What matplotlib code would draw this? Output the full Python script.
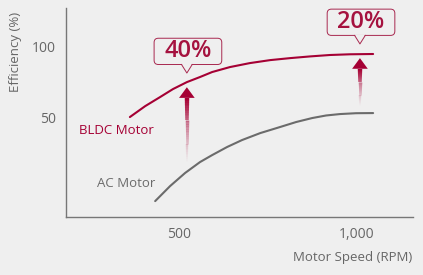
import matplotlib.pyplot as plt
import numpy as np
from matplotlib.collections import LineCollection
from matplotlib.patches import Polygon, FancyBboxPatch

plt.rcParams['font.family'] = ['Open Sans', 'DejaVu Sans']

# efficiency curves
bldc_rpm = [362, 405, 447, 483, 522, 559, 593, 643, 699, 756, 812, 868, 924, 980, 1045]
bldc_eff = [50.0, 57.7, 64.1, 69.7, 74.6, 78.2, 81.7, 85.2, 88.0, 90.1, 91.5, 92.7, 93.7, 94.2, 94.4]
ac_rpm = [433, 475, 517, 559, 593, 635, 677, 728, 784, 829, 874, 913, 952, 997, 1045]
ac_eff = [-9.2, 1.4, 10.6, 18.3, 23.2, 28.9, 33.8, 38.7, 43.0, 46.5, 49.3, 51.1, 52.1, 52.7, 52.8]

gain_labels = ['40%', '20%']
gain_rpm = [522, 1008]
gain_from = [17, 57]
gain_to = [71, 91.5]

x_ticks = [500, 1000]
x_tick_labels = ['500', '1,000']
y_ticks = [50, 100]

red = '#a50034'
grey = '#6b6b6b'
bg = '#efefef'

fig = plt.figure(figsize=(4.23, 2.75), dpi=100, facecolor=bg)
ax = fig.add_axes([66 / 423, 58 / 275, 347 / 423, 209 / 275], facecolor=bg)
ax.set_xlim(182.6, 1157)
ax.set_ylim(-20.4, 126.8)

ax.plot(bldc_rpm, bldc_eff, color=red, lw=1.5, solid_capstyle='round')
ax.plot(ac_rpm, ac_eff, color=grey, lw=1.5, solid_capstyle='round')

ax.text(78 / 0.356, (188 - 130) / 1.42, 'BLDC Motor', color=red, fontsize=9.5,
        va='center', ha='left')
ax.text(96 / 0.356, (188 - 183) / 1.42, 'AC Motor', color=grey, fontsize=9.5,
        va='center', ha='left')

# gradient arrows + callout boxes
for lab, x, y0, y1 in zip(gain_labels, gain_rpm, gain_from, gain_to):
    head = 7.5
    ys = np.linspace(y0, y1 - head, 40)
    segs = [[(x, ys[i]), (x, ys[i + 1])] for i in range(len(ys) - 1)]
    cols = [(0.65, 0.0, 0.2, a) for a in np.linspace(0, 1, len(segs)) ** 1.3]
    widths = np.linspace(1.2, 3.2, len(segs))
    ax.add_collection(LineCollection(segs, colors=cols, linewidths=widths))
    ax.add_patch(Polygon([(x - 22, y1 - head), (x + 22, y1 - head), (x, y1)],
                         closed=True, color=red, lw=0))

    w, h = 190, 18.5
    bx = x + 3 - w / 2
    by = y1 + 16
    ax.add_patch(FancyBboxPatch((bx, by), w, h,
                                boxstyle='round,pad=0,rounding_size=12',
                                mutation_aspect=0.25, fc=bg, ec='#a8284f', lw=0.7,
                                clip_on=False, zorder=4))
    ax.text(x + 3, by + h / 2, lab, color='#a5123f', fontsize=17, ha='center',
            va='center', clip_on=False, zorder=7, fontweight='semibold')
    tip = y1 + 10
    ax.add_patch(Polygon([(x - 15, by + 0.7), (x + 15, by + 0.7), (x, tip)],
                         closed=True, fc=bg, ec='none', zorder=5, clip_on=False))
    ax.plot([x - 15, x, x + 15], [by, tip, by], color='#a8284f', lw=0.7,
            zorder=6, clip_on=False)

for s in ['top', 'right']:
    ax.spines[s].set_visible(False)
for s in ['left', 'bottom']:
    ax.spines[s].set_color('#777777')
    ax.spines[s].set_linewidth(1.0)

ax.set_xticks(x_ticks)
ax.set_xticklabels(x_tick_labels)
ax.set_yticks(y_ticks)
ax.tick_params(length=0, labelsize=10, colors='#666666', pad=7)

fig.text(412 / 423, 1 - 257 / 275, 'Motor Speed (RPM)', color='#666666',
         fontsize=9.5, ha='right', va='center')
fig.text(16 / 423, 1 - 52 / 275, 'Efficiency (%)', color='#666666',
         fontsize=9.5, ha='center', va='center', rotation=90)

fig.savefig('out.png', dpi=100, facecolor=bg)
